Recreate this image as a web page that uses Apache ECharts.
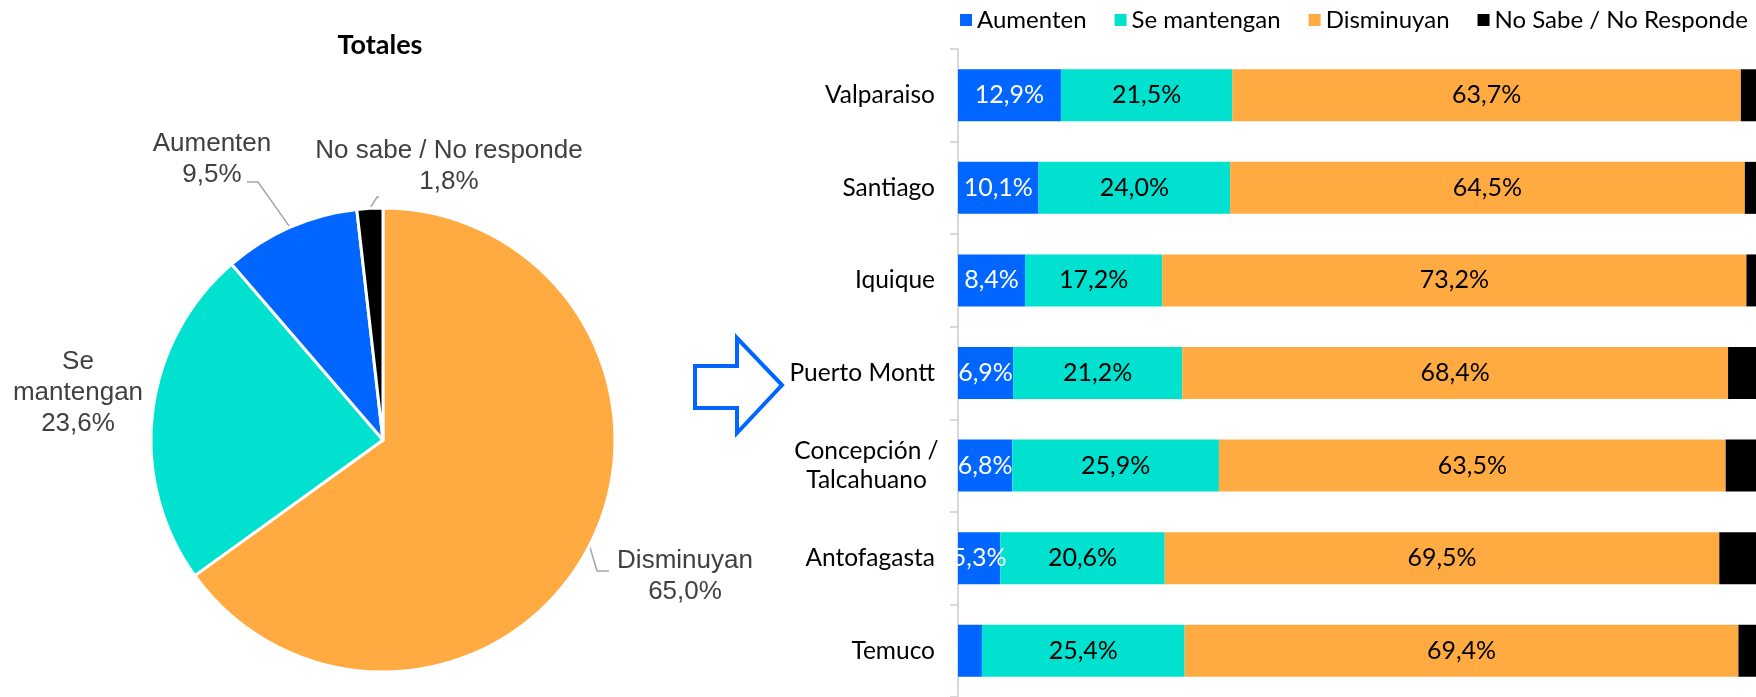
<!DOCTYPE html>
<html>
<head>
<meta charset="utf-8">
<script src="https://cdn.jsdelivr.net/npm/echarts@6/dist/echarts.min.js"></script>
<style>
  html, body { margin: 0; padding: 0; background: #fff; }
  #chart { width: 1756px; height: 697px; }
</style>
</head>
<body>
<div id="chart"></div>
<script>
// ---- Data ----
const categories = ['Valparaiso', 'Santiago', 'Iquique', 'Puerto Montt', 'Concepción / Talcahuano', 'Antofagasta', 'Temuco'];
const aumenten    = [12.9, 10.1, 8.4, 6.9, 6.8, 5.3, 3.0];
const seMantengan = [21.5, 24.0, 17.2, 21.2, 25.9, 20.6, 25.4];
const disminuyan  = [63.7, 64.5, 73.2, 68.4, 63.5, 69.5, 69.4];
const noSabe      = [1.9, 1.4, 1.2, 3.5, 3.8, 4.6, 2.2];
const seriesNames = ['Aumenten', 'Se mantengan', 'Disminuyan', 'No Sabe / No Responde'];

const pieNames  = ['Disminuyan', 'Se mantengan', 'Aumenten', 'No sabe / No responde'];
const pieLabels = ['Disminuyan', 'Se\nmantengan', 'Aumenten', 'No sabe / No responde'];
const pieValues = [65.0, 23.6, 9.5, 1.8];
const pieTitle = 'Totales';

// ---- Styles ----
const BLUE = '#0066FF', TEAL = '#00E1CF', ORANGE = '#FFAB42', BLACK = '#000000';
const fmt = v => v.toFixed(1).replace('.', ',') + '%';

// pie label placement (style)
const pieLabelPos = [
  { x: 685, y: 576, line: [[597, 571], [609, 571]] },
  { x: 78,  y: 393, line: null },
  { x: 212, y: 159, line: [[258, 182], [247, 182]] },
  { x: 449, y: 166, line: [[377, 197], [379, 197]] }
];

const chart = echarts.init(document.getElementById('chart'), null, { renderer: 'canvas' });

const barLabel = (color) => ({
  show: true, position: 'inside', color: color,
  fontFamily: 'Lato', fontSize: 25,
  formatter: p => fmt(p.value)
});

const option = {
  animation: false,
  backgroundColor: '#ffffff',
  legend: {
    data: seriesNames,
    left: 955, top: 3, width: 1000, orient: 'horizontal',
    icon: 'rect', itemWidth: 12, itemHeight: 12, itemGap: 28,
    textStyle: { fontFamily: 'Lato', fontSize: 24, color: '#000' },
    selectedMode: false
  },
  grid: { left: 958, top: 49, width: 800, bottom: 0, containLabel: false },
  xAxis: { type: 'value', min: 0, max: 100, show: false },
  yAxis: {
    type: 'category', data: categories, inverse: true,
    axisLine: { show: true, lineStyle: { color: '#d9d9d9', width: 2 } },
    axisTick: { show: true, length: 8, lineStyle: { color: '#d9d9d9', width: 2 } },
    axisLabel: {
      margin: 23, color: '#000', fontFamily: 'Lato', fontSize: 24.5, lineHeight: 29,
      formatter: v => v.indexOf(' / ') > 0 ? v.split(' / ').map((s, i, a) => '{c|' + s + (i < a.length - 1 ? ' /' : '') + '}').join('\n') : v,
      rich: { c: { width: 137, align: 'center', fontFamily: 'Lato', fontSize: 24.5, lineHeight: 29, color: '#000' } }
    }
  },
  graphic: [
    {
      type: 'text', x: 380, y: 45,
      style: { text: pieTitle, font: 'bold 27px Lato', fill: '#000', align: 'center', verticalAlign: 'middle' }
    },
    {
      type: 'polygon',
      shape: { points: [[695, 366], [737, 366], [737, 338], [782, 385], [737, 433], [737, 408], [695, 408]] },
      style: { fill: '#ffffff', stroke: BLUE, lineWidth: 4 }
    }
  ],
  series: [
    {
      name: seriesNames[0], type: 'bar', stack: 't', barWidth: 52,
      itemStyle: { color: BLUE },
      label: barLabel('#ffffff'),
      data: aumenten.map(v => v < 4 ? { value: v, label: { show: false } } : v)
    },
    {
      name: seriesNames[1], type: 'bar', stack: 't', barWidth: 52,
      itemStyle: { color: TEAL }, label: barLabel('#000'), data: seMantengan
    },
    {
      name: seriesNames[2], type: 'bar', stack: 't', barWidth: 52,
      itemStyle: { color: ORANGE }, label: barLabel('#000'), data: disminuyan
    },
    {
      name: seriesNames[3], type: 'bar', stack: 't', barWidth: 52,
      itemStyle: { color: BLACK }, label: { show: false }, data: noSabe
    },
    {
      type: 'pie', center: [383, 440], radius: [0, 232],
      startAngle: 90, clockwise: true, avoidLabelOverlap: false,
      emphasis: { disabled: true },
      itemStyle: { borderColor: '#fff', borderWidth: 3 },
      label: {
        show: true, position: 'outside',
        fontFamily: 'Liberation Sans', fontSize: 26, lineHeight: 31, color: '#404040',
        align: 'center',
        formatter: p => pieLabels[p.dataIndex] + '\n' + fmt(p.value)
      },
      labelLine: { show: true, length: 10, length2: 10, lineStyle: { color: '#a6a6a6', width: 1.5 } },
      labelLayout: function (params) {
        const cfg = pieLabelPos[params.dataIndex];
        const res = { x: cfg.x, y: cfg.y, align: 'center', verticalAlign: 'middle' };
        if (cfg.line && params.labelLinePoints) {
          res.labelLinePoints = [params.labelLinePoints[0], cfg.line[0], cfg.line[1]];
        }
        return res;
      },
      data: pieNames.map((n, i) => ({
        name: n, value: pieValues[i],
        itemStyle: { color: [ORANGE, TEAL, BLUE, BLACK][i] },
        labelLine: { show: i !== 1 }
      }))
    }
  ]
};

chart.setOption(option);
</script>
</body>
</html>
